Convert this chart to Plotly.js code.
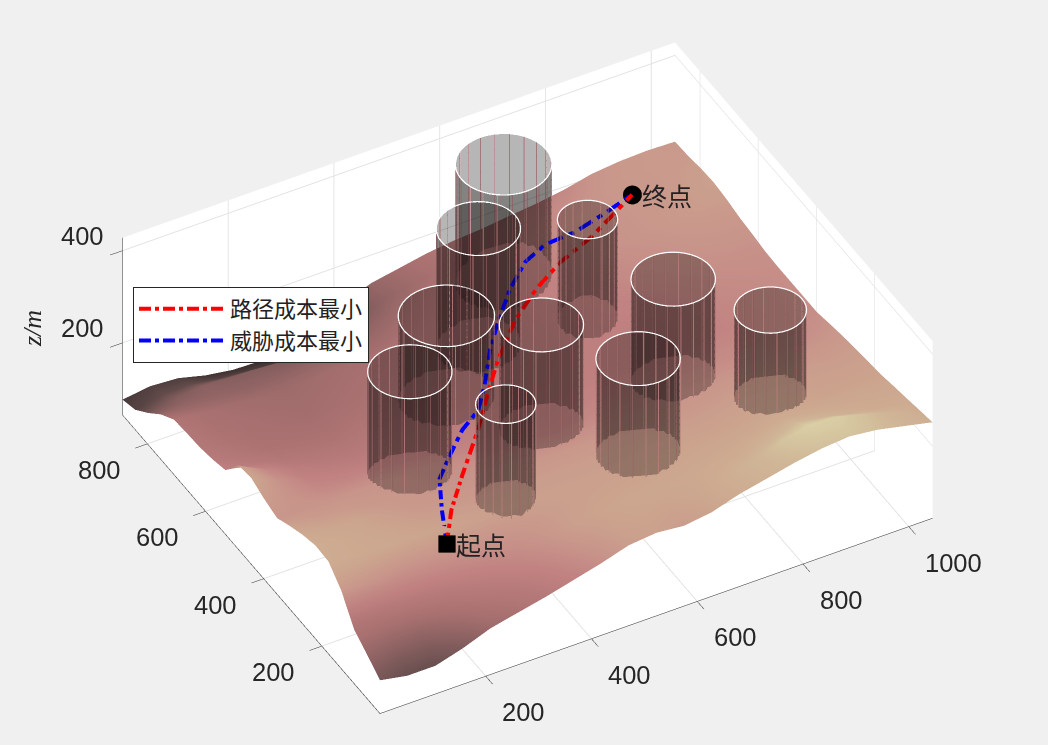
<!DOCTYPE html>
<html><head><meta charset="utf-8">
<script src="https://cdn.plot.ly/plotly-3.0.1.min.js"></script>
<style>html,body{margin:0;padding:0;background:#f0f0f0}#c{width:1048px;height:745px}</style>
</head><body><div id="c"></div>
<script>
var gridX=[0,52,105,157,209,261,314,366,418,470,523,575,627,679,732,784,836,888,941,993,1045];
var gridY=[0,44,89,133,177,222,266,310,354,399,443,487,532,576,620,665,709,753,797,842,886];
var terrainZ=[
[116,105,105,122,144,157,170,185,200,218,224,218,226,244,257,270,280,285,278,265,252],
[139,133,132,145,160,170,182,195,210,224,228,226,232,248,264,285,298,296,280,262,246],
[161,160,163,170,179,187,196,208,222,228,231,233,235,240,244,258,272,262,250,240,239],
[213,208,200,200,203,205,208,214,220,224,226,227,229,231,234,238,246,241,236,234,233],
[244,238,235,231,228,225,222,222,222,222,222,224,226,226,226,228,231,229,226,226,226],
[246,238,232,226,220,218,216,217,218,218,218,219,220,220,220,222,224,223,222,222,222],
[237,231,228,220,213,211,209,211,213,213,213,213,213,213,213,215,218,218,218,216,218],
[224,218,216,212,210,206,204,204,203,201,200,203,205,206,207,208,209,209,209,210,213],
[209,208,207,207,207,204,200,196,192,189,187,191,196,198,200,200,200,200,200,200,207],
[218,205,195,192,192,190,189,186,185,184,183,185,189,190,191,192,193,194,195,197,200],
[231,205,187,182,179,179,179,179,179,179,179,181,183,183,183,185,187,189,192,196,200],
[226,195,178,172,170,172,173,175,175,177,177,178,181,182,183,184,186,189,193,197,200],
[183,175,166,163,161,164,166,168,170,172,174,177,179,181,183,185,187,191,196,199,200],
[174,165,158,156,155,158,160,163,166,169,172,175,179,182,185,187,190,195,200,202,202],
[168,160,155,152,150,152,155,158,161,165,170,174,179,183,187,191,196,200,205,207,207],
[166,157,153,150,148,150,152,155,158,162,168,173,179,185,190,194,200,204,209,211,211],
[163,155,150,147,145,147,150,152,155,160,166,172,179,185,192,198,205,209,213,217,218],
[142,140,138,135,135,136,138,140,146,152,160,167,176,184,192,198,205,209,213,217,222],
[113,125,130,127,125,122,120,125,135,144,153,163,174,185,196,202,207,210,213,215,220],
[87,100,100,90,85,80,82,95,118,135,146,155,170,178,188,196,203,210,214,215,215],
[77,85,81,66,57,55,66,87,116,139,150,161,168,172,179,185,194,207,213,215,213]];
var cylX=[645,528,417,255,507,350,713,754,597,859];
var cylY=[748,622,530,361,367,204,583,363,198,220];
var cylR=[80,70,80,70,70,50,50,70,70,60];
var cylTop=[427,427,350,418,413,424,400,415,427,410];
var cylBase=[150,130,140,160,160,190,160,170,190,200];
var redX=[205,250,314,387,455,494,563,630,691,759,806,859];
var redY=[143,209,288,367,448,493,559,605,636,656,674,695];
var redZ=[225,232,223,234,245,250,261,270,278,289,300,313];
var blueX=[205,239,278,322,367,410,447,494,531,589,642,688,743,805,859];
var blueY=[143,222,301,345,384,408,453,520,563,625,668,683,680,688,695];
var blueZ=[225,227,220,222,230,237,245,252,260,268,275,283,290,301,313];
var xTicks=[200,400,600,800,1000], yTicks=[200,400,600,800], zTicks=[200,400];
var seriesNames=['路径成本最小','威胁成本最小'];

// Dash-dot stroke styling: breaks a path into pen-down runs along its own read vertices.
function dashDot(X,Y,Z){
 var pat=[26,11,10,11],pi=0,left=pat[0],ox=[X[0]],oy=[Y[0]],oz=[Z[0]];
 for(var i=1;i<X.length;i++){
  var dx=X[i]-X[i-1],dy=Y[i]-Y[i-1],dz=Z[i]-Z[i-1],len=Math.sqrt(dx*dx+dy*dy+dz*dz),pos=0;
  while(len-pos>left){
   pos+=left;var f=pos/len,qx=X[i-1]+dx*f,qy=Y[i-1]+dy*f,qz=Z[i-1]+dz*f;
   if(pi%2==0){ox.push(qx,null);oy.push(qy,null);oz.push(qz,null);}
   else{ox.push(qx);oy.push(qy);oz.push(qz);}
   pi=(pi+1)%4;left=pat[pi];
  }
  left-=len-pos;
  if(pi%2==0){ox.push(X[i]);oy.push(Y[i]);oz.push(Z[i]);}
 }
 return {x:ox,y:oy,z:oz};
}

var traces=[{type:'surface',x:gridX,y:gridY,z:terrainZ,showscale:false,hoverinfo:'skip',cmin:60,cmax:304,
 colorscale:[[0,'#40302f'],[0.07,'#4a3a3a'],[0.2,'#6e5252'],[0.38,'#a87070'],[0.51,'#c08080'],[0.6,'#c8948a'],[0.69,'#cca58e'],[0.87,'#d0b898'],[1,'#dcd4a8']],
 lighting:{ambient:0.95,diffuse:0.1,specular:0,roughness:1,fresnel:0},
 contours:{x:{highlight:false},y:{highlight:false},z:{highlight:false}}}];
var gray=[[0,'rgb(15,10,10)'],[1,'rgb(15,10,10)']];
var N=40;
cylX.forEach(function(cx,i){
 var cy=cylY[i],r=cylR[i],t=cylTop[i],base=cylBase[i];
 var wx=[[],[]],wy=[[],[]],wz=[[],[]],rx=[],ry=[],rz=[];
 for(var k=0;k<=N;k++){
  var a=2*Math.PI*k/N,px=cx+r*Math.cos(a),py=cy+r*Math.sin(a);
  wx[0].push(px);wx[1].push(px);wy[0].push(py);wy[1].push(py);wz[0].push(base);wz[1].push(t);
  rx.push(px);ry.push(py);rz.push(t);
 }
 traces.push({type:'surface',x:wx,y:wy,z:wz,surfacecolor:[wz[0].map(function(){return 0}),wz[0].map(function(){return 0})],colorscale:gray,showscale:false,opacity:0.3,hoverinfo:'skip',lighting:{ambient:1,diffuse:0,specular:0}});
 var vx=[],vy=[],vz=[];
 for(var m=0;m<20;m++){var b=2*Math.PI*m/20,qx=cx+r*Math.cos(b),qy=cy+r*Math.sin(b);vx.push(qx,qx,null);vy.push(qy,qy,null);vz.push(base,t,null);}
 traces.push({type:'scatter3d',mode:'lines',x:vx,y:vy,z:vz,line:{color:'#a87070',width:1.5},showlegend:false,hoverinfo:'skip',connectgaps:false});
 traces.push({type:'scatter3d',mode:'lines',x:rx,y:ry,z:rz,line:{color:'#ffffff',width:2.5},showlegend:false,hoverinfo:'skip'});
});
var redD=dashDot(redX,redY,redZ),blueD=dashDot(blueX,blueY,blueZ);
traces.push({type:'scatter3d',mode:'lines',x:redD.x,y:redD.y,z:redD.z,connectgaps:false,line:{color:'#ff0000',width:8},showlegend:false,hoverinfo:'skip'});
traces.push({type:'scatter3d',mode:'lines',x:blueD.x,y:blueD.y,z:blueD.z,connectgaps:false,line:{color:'#0000ff',width:8},showlegend:false,hoverinfo:'skip'});
// legend keys only: one point each, so they add no visible stroke
traces.push({type:'scatter3d',mode:'lines',name:seriesNames[0],x:[redX[0]],y:[redY[0]],z:[redZ[0]],line:{color:'#ff0000',width:4,dash:'dashdot'},hoverinfo:'skip'});
traces.push({type:'scatter3d',mode:'lines',name:seriesNames[1],x:[blueX[0]],y:[blueY[0]],z:[blueZ[0]],line:{color:'#0000ff',width:4,dash:'dashdot'},hoverinfo:'skip'});
traces.push({type:'scatter3d',mode:'markers',x:[redX[0]],y:[redY[0]],z:[redZ[0]],marker:{symbol:'square',size:9,color:'#000'},showlegend:false,hoverinfo:'skip'});
traces.push({type:'scatter3d',mode:'markers',x:[redX[11]],y:[redY[11]],z:[redZ[11]],marker:{symbol:'circle',size:11,color:'#000'},showlegend:false,hoverinfo:'skip'});

function ax(range,vals){return {range:range,autorange:false,tickmode:'array',tickvals:vals,showticklabels:false,
 showgrid:true,gridcolor:'#e2e2e2',gridwidth:2,zeroline:false,showline:true,linecolor:'#262626',linewidth:1,
 ticks:'outside',ticklen:14,tickcolor:'#262626',tickwidth:1,
 showbackground:true,backgroundcolor:'#ffffff',showspikes:false,title:{text:''}};}
var tickFont={family:'Liberation Sans',size:25.5,color:'#262626'};
function tickNote(x,y,z,text,dx,dy){return {x:x,y:y,z:z,text:text,showarrow:false,xanchor:'center',yanchor:'middle',xshift:dx,yshift:dy,font:tickFont};}
var notes=[];
xTicks.forEach(function(v){notes.push(tickNote(v,0,44,String(v),v==1000?45:38,-36));});
yTicks.forEach(function(v){notes.push(tickNote(0,v,44,String(v),-48,-26));});
zTicks.forEach(function(v){notes.push(tickNote(0,886,v,String(v),-40,15));});
notes.push({x:redX[0],y:redY[0],z:redZ[0],text:'起点',showarrow:false,xanchor:'left',xshift:7,font:{family:'Noto Sans CJK SC',size:25,color:'#222'}});
notes.push({x:redX[11],y:redY[11],z:redZ[11],text:'终点',showarrow:false,xanchor:'left',xshift:8,font:{family:'Noto Sans CJK SC',size:25,color:'#222'}});
var layout={width:1048,height:745,margin:{l:0,r:0,t:0,b:0},paper_bgcolor:'#f0f0f0',
 font:{family:'Noto Sans CJK SC'},
 legend:{x:133/1048,y:1-287/745,xanchor:'left',yanchor:'top',bgcolor:'#ffffff',bordercolor:'#262626',borderwidth:1,font:{family:'Noto Sans CJK SC',size:22,color:'#222'},itemwidth:86},
 annotations:[{xref:'paper',yref:'paper',x:32/1048,y:1-329/745,xanchor:'center',yanchor:'middle',text:'<i>z/m</i>',textangle:-90,showarrow:false,font:{family:'Liberation Serif',size:26,color:'#262626'}}],
 scene:{domain:{x:[0.0067,1],y:[0,0.985]},bgcolor:'#f0f0f0',aspectmode:'manual',aspectratio:{x:1.72,y:1.452,z:0.628},
  camera:{projection:{type:'orthographic'},eye:{x:-0.371,y:-0.672,z:0.64},center:{x:0,y:0,z:0},up:{x:0,y:0,z:1}},
  xaxis:ax([0,1045],xTicks),yaxis:ax([0,886],yTicks),
  zaxis:ax([44,428],zTicks),
  annotations:notes}};
Plotly.newPlot('c',traces,layout,{displayModeBar:false});
</script></body></html>
